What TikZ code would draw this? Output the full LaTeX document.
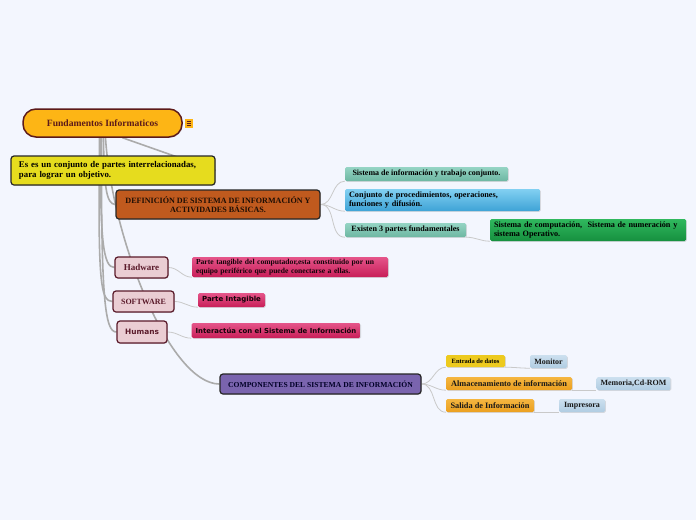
\documentclass[tikz,border=0pt]{standalone}
\usepackage{fontspec}
\setmainfont{Liberation Serif}
\newfontfamily\vsans{DejaVu Sans}
\usetikzlibrary{shadows}
\pgfdeclarelayer{bg}
\pgfdeclarelayer{background}
\pgfsetlayers{bg,background,main}
\definecolor{bgc}{HTML}{F3F6FE}
\definecolor{rootc}{HTML}{FDB515}
\definecolor{rootb}{HTML}{5C1A1A}
\definecolor{yelc}{HTML}{E6DC1E}
\definecolor{defc}{HTML}{C05A1E}
\definecolor{tealt}{HTML}{95D4C4}
\definecolor{tealb}{HTML}{6DB7A2}
\definecolor{bluet}{HTML}{82D0F2}
\definecolor{blueb}{HTML}{3EA3D6}
\definecolor{greent}{HTML}{30B85E}
\definecolor{greenb}{HTML}{16903F}
\definecolor{pinkc}{HTML}{EACDD3}
\definecolor{pinkb}{HTML}{5A1A2A}
\definecolor{magt}{HTML}{E5558A}
\definecolor{magb}{HTML}{C81E58}
\definecolor{purc}{HTML}{7A64AE}
\definecolor{entc}{HTML}{EDCA1E}
\definecolor{orat}{HTML}{F5B640}
\definecolor{orab}{HTML}{EBA020}
\definecolor{lbt}{HTML}{CCE0EF}
\definecolor{lbb}{HTML}{B0CCE2}
\definecolor{trunk}{HTML}{ABABAB}
\definecolor{twig}{HTML}{C9C9C9}
\tikzset{
  box/.style={rectangle, inner sep=0pt, inner xsep=4pt, font=\bfseries,
    drop shadow={opacity=0.25, shadow xshift=0.8pt, shadow yshift=-0.8pt}},
  mainbox/.style={box, draw=black!85, line width=1.2pt, rounded corners=3pt},
  subbox/.style={box, rounded corners=1.5pt, align=left},
  pinkbox/.style={box, draw=pinkb, line width=1.2pt, rounded corners=3pt, fill=pinkc, text=pinkb},
  tealbox/.style={subbox, top color=tealt, bottom color=tealb, text=black},
  magbox/.style={subbox, top color=magt, bottom color=magb, text=black!90!magb},
  lbbox/.style={subbox, top color=lbt, bottom color=lbb, text=black!90},
  orabox/.style={subbox, top color=orat, bottom color=orab, text=black!90},
  trunkline/.style={draw=trunk, line width=1.6pt},
  twigline/.style={draw=twig, line width=0.8pt},
}
\begin{document}
\begin{tikzpicture}[x=1pt,y=-1pt]
\begin{pgfonlayer}{bg}
\path[use as bounding box, fill=bgc] (0,0) rectangle (696,520);
\end{pgfonlayer}

\node[box, draw=rootb, line width=1.5pt, rounded corners=13pt, fill=rootc, text=rootb,
  minimum width=159pt, minimum height=28pt, font=\fontsize{9.6}{10}\selectfont\bfseries] (root) at (102.5,123) {Fundamentos Informaticos};
\node[rectangle, fill=rootc, minimum width=8pt, minimum height=9pt, inner sep=0pt] (icon) at (189,123.5) {};
\foreach \yy in {-2,0,2} \draw[rootb, line width=0.6pt] ([xshift=-2.3pt,yshift=\yy pt]icon.center) -- ([xshift=2.3pt,yshift=\yy pt]icon.center);

\node[mainbox, fill=yelc, minimum width=204pt, minimum height=29pt, text width=188pt, align=left,
  font=\fontsize{8.8}{9.2}\selectfont\bfseries, inner xsep=8pt] (yel) at (113,170.5)
  {Es es un conjunto de partes interrelacionadas,\\para lograr un objetivo.};

\node[mainbox, fill=defc, text=black!85!defc, minimum width=204pt, minimum height=29pt, align=center,
  font=\fontsize{8.1}{8.3}\selectfont\bfseries] (def) at (218,204.5)
  {DEFINICIÓN DE SISTEMA DE INFORMACIÓN Y\\ACTIVIDADES BÁSICAS.};

\node[tealbox, minimum width=163pt, minimum height=14pt, font=\fontsize{8}{9}\selectfont\bfseries] (s1) at (426.5,174) {Sistema de información y trabajo conjunto.};
\node[subbox, top color=bluet, bottom color=blueb, minimum width=195pt, minimum height=22pt, text width=187pt,
  font=\fontsize{8.2}{8.2}\selectfont\bfseries] (s2) at (442.5,200) {Conjunto de procedimientos, operaciones,\\funciones y difusión.};
\node[tealbox, minimum width=121pt, minimum height=14pt, font=\fontsize{8.1}{9}\selectfont\bfseries] (s3) at (405.5,230) {Existen 3 partes fundamentales};
\node[subbox, top color=greent, bottom color=greenb, minimum width=196pt, minimum height=22pt, text width=188pt,
  font=\fontsize{8.2}{8.2}\selectfont\bfseries] (s4) at (588,230) {Sistema de computación,~ Sistema de numeración y\\sistema Operativo.};

\node[pinkbox, minimum width=53pt, minimum height=21pt, font=\fontsize{9}{10}\selectfont\bfseries] (hw) at (141.5,267.5) {Hadware};
\node[magbox, minimum width=196pt, minimum height=20pt, text width=188pt,
  font=\fontsize{7.6}{8.4}\selectfont\bfseries] (pt) at (290,267) {Parte tangible del computador,esta constituido por un\\equipo periférico que puede conectarse a ellas.};
\node[pinkbox, minimum width=61pt, minimum height=21pt, font=\fontsize{8}{9}\selectfont\bfseries] (sw) at (143.5,301.5) {SOFTWARE};
\node[magbox, minimum width=67pt, minimum height=14pt, align=center, font=\vsans\fontsize{7}{8}\selectfont\bfseries] (pi) at (231.5,300) {Parte Intagible};
\node[pinkbox, minimum width=50pt, minimum height=22pt, font=\vsans\fontsize{7.4}{8}\selectfont\bfseries] (hu) at (142,332) {Humans};
\node[magbox, minimum width=168pt, minimum height=15pt, align=center, font=\vsans\fontsize{6.9}{8}\selectfont\bfseries] (ia) at (276,330.5) {Interactúa con el Sistema de Información};

\node[mainbox, fill=purc, text=black!85!blue, minimum width=201pt, minimum height=20pt,
  font=\fontsize{7.6}{8}\selectfont\bfseries] (comp) at (320.5,384) {COMPONENTES DEL SISTEMA DE INFORMACIÓN};

\node[subbox, fill=entc, minimum width=59pt, minimum height=12pt, font=\fontsize{6.5}{7}\selectfont\bfseries] (e1) at (475.5,361) {Entrada de datos};
\node[lbbox, minimum width=37pt, minimum height=13pt, align=center, font=\fontsize{8}{9}\selectfont\bfseries] (m1) at (548.5,361.5) {Monitor};
\node[orabox, minimum width=126pt, minimum height=13pt, font=\fontsize{8.3}{9}\selectfont\bfseries] (e2) at (509,383.5) {Almacenamiento de información};
\node[lbbox, minimum width=73pt, minimum height=13pt, align=center, font=\fontsize{8}{9}\selectfont\bfseries] (m2) at (633.5,383.5) {Memoria,Cd-ROM};
\node[orabox, minimum width=88pt, minimum height=13pt, font=\fontsize{8.3}{9}\selectfont\bfseries] (e3) at (490,405.5) {Salida de Información};
\node[lbbox, minimum width=46pt, minimum height=13pt, align=center, font=\fontsize{8}{9}\selectfont\bfseries] (m3) at (582,405.5) {Impresora};

\begin{pgfonlayer}{background}
\draw[trunkline] ([xshift=20pt]root.south) -- (yel.east);
\draw[trunkline] ([xshift=1pt]root.south) .. controls (104,185) and (106,204.5) .. (def.west);
\draw[trunkline] ([xshift=-2pt]root.south) .. controls (100,240) and (103,267.5) .. (hw.west);
\draw[trunkline] ([xshift=-3pt]root.south) .. controls (98,280) and (100,301.5) .. (sw.west);
\draw[trunkline] ([xshift=-1pt]root.south) .. controls (101,300) and (105,332) .. (hu.west);
\draw[trunkline] ([xshift=3pt]root.south) .. controls (112,240) and (170,384) .. (comp.west);

\draw[twigline] (def.east) to[out=0,in=180] (s1.south west);
\draw[twigline] (def.east) to[out=0,in=180] (s2.south west);
\draw[twigline] (def.east) to[out=0,in=180] (s3.south west);
\draw[twigline] (s3.south east) to[out=0,in=180] (s4.south west);
\draw[twigline] (hw.east) to[out=0,in=180] (pt.south west);
\draw[twigline] (sw.east) to[out=0,in=180] (pi.south west);
\draw[twigline] (hu.east) to[out=0,in=180] (ia.south west);
\draw[twigline] (comp.east) to[out=0,in=180] (e1.south west);
\draw[twigline] (comp.east) to[out=0,in=180] (e2.south west);
\draw[twigline] (comp.east) to[out=0,in=180] (e3.south west);
\draw[twigline] (e1.south east) to[out=0,in=180] (m1.south west);
\draw[twigline] (e2.south east) to[out=0,in=180] (m2.south west);
\draw[twigline] (e3.south east) to[out=0,in=180] (m3.south west);
\end{pgfonlayer}
\end{tikzpicture}
\end{document}
